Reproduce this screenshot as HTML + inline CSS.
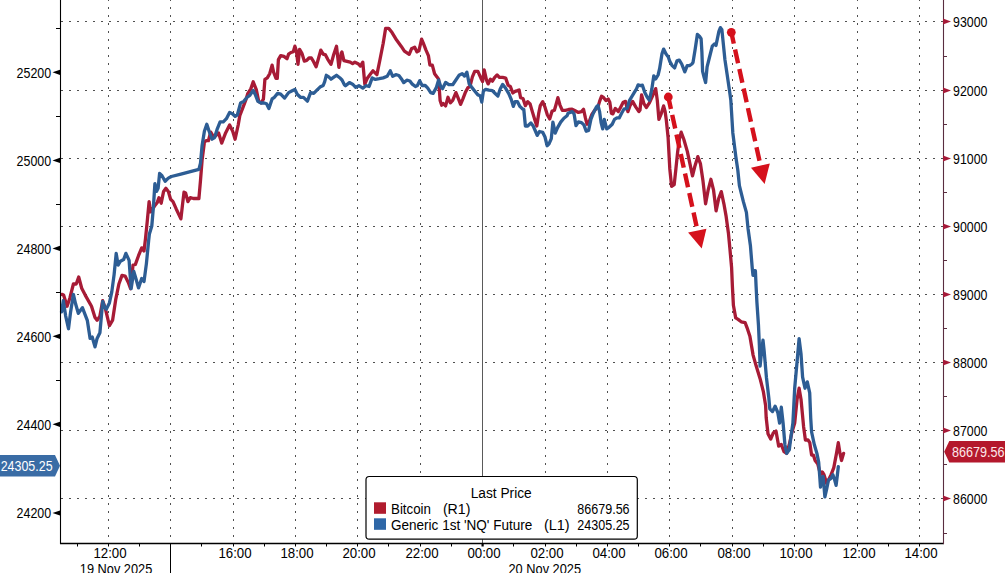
<!DOCTYPE html><html><head><meta charset="utf-8"><style>
html,body{margin:0;padding:0;background:#fff;overflow:hidden}
svg{display:block;font-family:"Liberation Sans", sans-serif}
</style></head><body>
<svg width="1005" height="573" viewBox="0 0 1005 573">
<rect width="1005" height="573" fill="#fff"/>
<g stroke="#505050" stroke-width="1" stroke-dasharray="2 6" shape-rendering="crispEdges"><line x1="61" y1="21.5" x2="943" y2="21.5"/><line x1="61" y1="90.5" x2="943" y2="90.5"/><line x1="61" y1="158.5" x2="943" y2="158.5"/><line x1="61" y1="226.5" x2="943" y2="226.5"/><line x1="61" y1="294.5" x2="943" y2="294.5"/><line x1="61" y1="362.5" x2="943" y2="362.5"/><line x1="61" y1="430.5" x2="943" y2="430.5"/><line x1="61" y1="498.5" x2="943" y2="498.5"/><line x1="108.5" y1="0" x2="108.5" y2="543" stroke-dashoffset="1"/><line x1="170.5" y1="0" x2="170.5" y2="543" stroke-dashoffset="1"/><line x1="233.5" y1="0" x2="233.5" y2="543" stroke-dashoffset="1"/><line x1="295.5" y1="0" x2="295.5" y2="543" stroke-dashoffset="1"/><line x1="357.5" y1="0" x2="357.5" y2="543" stroke-dashoffset="1"/><line x1="420.5" y1="0" x2="420.5" y2="543" stroke-dashoffset="1"/><line x1="545.5" y1="0" x2="545.5" y2="543" stroke-dashoffset="1"/><line x1="607.5" y1="0" x2="607.5" y2="543" stroke-dashoffset="1"/><line x1="669.5" y1="0" x2="669.5" y2="543" stroke-dashoffset="1"/><line x1="732.5" y1="0" x2="732.5" y2="543" stroke-dashoffset="1"/><line x1="794.5" y1="0" x2="794.5" y2="543" stroke-dashoffset="1"/><line x1="857.5" y1="0" x2="857.5" y2="543" stroke-dashoffset="1"/><line x1="919.5" y1="0" x2="919.5" y2="543" stroke-dashoffset="1"/></g>
<line x1="482.5" y1="0" x2="482.5" y2="543" stroke="#5a5a5a" stroke-width="1" shape-rendering="crispEdges"/>
<polyline points="61.9,294.4 63.6,295.1 67.1,306.3 69.9,297.9 73.4,284.0 76.2,284.0 78.7,277.0 81.7,288.2 85.2,295.1 91.5,306.3 95.0,317.5 97.1,320.3 99.9,316.1 102.7,300.7 105.5,309.1 109.4,325.7 112.6,320.2 115.7,299.7 118.9,284.0 122.0,275.4 125.1,276.1 128.3,282.4 130.6,288.7 133.0,265.1 135.4,264.4 138.5,255.7 141.7,247.9 144.0,251.0 145.5,238.6 147.1,222.9 149.1,201.6 150.7,211.9 154.9,205.6 157.3,202.4 158.9,197.7 161.2,203.2 163.6,191.4 165.9,188.3 168.3,191.4 170.6,199.3 173.0,201.6 176.1,208.7 180.9,218.9 182.4,205.6 184.0,192.2 185.6,193.0 187.9,201.6 190.3,197.7 193.4,198.5 198.9,198.5 200.5,180.4 202.1,160.0 204.4,142.3 206.0,140.7 208.4,140.7 210.7,132.1 213.1,136.0 215.4,136.0 218.6,132.9 221.7,143.1 225.6,132.9 229.6,125.0 232.7,131.3 235.1,139.2 238.2,125.0 239.8,115.6 242.9,107.7 246.1,99.1 247.7,93.6 250.8,88.9 253.2,81.8 256.3,89.6 258.7,101.4 261.0,103.0 263.4,99.1 264.9,79.4 267.3,77.9 269.7,73.7 272.1,65.1 273.6,72.2 276.0,78.4 277.3,78.4 278.4,59.6 280.7,55.6 283.9,56.4 287.0,58.8 288.6,54.1 290.9,52.5 293.3,51.7 294.9,46.2 296.4,50.9 298.0,64.3 299.6,49.4 301.9,53.3 304.3,61.1 306.7,60.4 309.0,58.0 311.4,58.0 313.7,61.9 316.1,66.7 318.4,58.8 320.8,50.1 323.2,54.1 325.5,54.9 327.9,59.6 331.0,64.3 333.4,55.6 336.5,46.2 338.9,67.4 341.2,53.3 341.9,51.9 343.9,60.6 347.1,61.4 350.2,62.2 352.6,63.7 354.9,62.2 358.1,63.7 360.4,66.1 362.8,62.2 364.8,84.2 367.5,77.9 369.9,74.7 373.0,70.8 376.9,74.7 380.1,59.0 383.2,43.3 385.6,28.4 388.7,28.4 391.9,32.3 396.6,40.1 401.3,46.4 404.4,51.1 409.2,54.3 411.5,48.8 414.7,47.2 417.0,51.9 418.9,50.9 421.6,39.1 423.6,43.9 426.0,50.1 428.4,55.6 429.9,65.1 432.3,65.1 434.6,73.7 437.0,76.9 438.6,79.2 440.1,100.4 441.7,105.2 443.3,103.6 445.6,105.9 448.0,97.3 450.4,102.8 452.7,100.4 455.9,92.6 458.2,98.1 460.6,104.4 462.9,98.9 465.3,92.6 467.7,87.9 470.0,86.3 472.4,76.9 474.7,71.4 477.9,71.4 481.0,78.4 482.6,81.6 484.2,69.8 486.5,80.0 488.1,83.9 490.4,79.2 492.4,81.2 494.7,77.3 497.1,74.9 499.4,77.3 502.6,77.3 505.7,78.1 508.1,85.1 510.4,86.7 512.8,93.0 515.1,91.4 517.5,90.6 519.1,89.9 520.6,97.7 523.0,98.5 525.4,105.6 527.7,101.7 530.1,104.0 532.4,111.9 534.8,119.7 536.8,126.0 538.7,113.4 540.3,105.6 542.7,101.7 545.0,107.2 547.4,115.0 549.7,118.9 552.1,111.1 554.4,110.3 556.0,104.8 557.9,97.7 559.9,104.8 562.3,110.3 565.4,110.3 568.6,109.5 572.1,109.2 575.2,110.8 578.4,112.4 581.5,111.6 583.5,109.2 585.4,117.9 587.0,124.2 589.4,121.0 591.7,114.7 594.9,110.0 598.0,106.9 599.6,101.4 601.5,96.2 603.5,97.4 605.9,100.6 608.2,99.0 609.8,102.2 611.4,113.2 612.9,113.9 615.3,108.4 618.4,111.6 620.8,106.9 623.2,102.2 625.5,101.4 627.9,111.6 630.2,105.3 632.6,101.4 635.7,106.9 638.9,111.6 640.0,110.0 641.6,94.9 643.9,103.6 646.3,107.5 649.4,102.8 652.6,95.7 655.7,88.6 657.3,100.4 658.9,119.3 661.2,113.8 663.6,105.9 665.1,111.4 666.3,120.0 668.1,137.5 669.8,168.9 671.6,186.3 674.2,184.6 675.9,168.9 677.7,151.4 679.4,139.2 681.2,132.2 683.8,139.2 687.3,151.4 689.9,163.6 692.5,175.9 695.1,165.4 697.8,156.7 700.4,163.6 703.0,181.1 705.6,203.8 708.2,189.8 710.9,179.3 713.5,189.8 716.1,210.8 718.7,198.5 721.3,191.6 723.9,203.8 726.0,215.6 728.4,232.9 729.9,248.6 731.6,267.6 732.4,286.4 733.4,305.3 735.7,317.9 738.1,319.4 741.2,321.8 745.1,322.6 747.5,328.9 749.9,336.3 751.5,345.7 753.1,355.1 756.2,366.1 760.1,378.7 763.3,391.3 765.6,405.4 766.2,417.8 768.0,433.8 770.7,439.1 773.3,432.9 776.0,431.1 778.7,446.2 781.3,444.5 784.0,451.6 786.7,453.4 789.3,444.5 792.0,432.0 794.7,423.1 797.1,399.2 799.1,388.2 801.0,399.2 803.6,426.7 805.4,440.0 808.0,440.0 809.8,442.7 811.6,455.1 813.4,455.1 815.1,460.5 817.8,464.0 820.5,474.7 822.3,472.0 824.0,474.7 826.7,483.6 828.5,480.0 831.1,474.7 833.8,467.6 836.5,453.4 838.3,442.7 840.0,453.4 841.5,460.5 843.6,453.4" fill="none" stroke="#a71b36" stroke-width="3.3" stroke-linejoin="round" stroke-linecap="round"/>
<polyline points="61.5,311.9 63.3,300.7 65.7,316.1 68.5,328.7 70.6,311.9 73.4,294.4 75.5,303.5 78.3,313.3 82.4,307.7 87.3,320.3 90.1,338.4 92.2,337.0 95.0,346.8 97.1,338.4 99.9,332.8 102.7,301.4 104.8,307.7 106.3,309.2 109.4,302.9 111.8,291.9 114.1,274.6 116.2,253.4 118.1,265.1 120.4,261.2 123.6,259.6 125.9,253.4 129.1,260.4 131.1,288.7 133.8,271.4 136.1,279.3 138.5,287.9 141.7,278.5 144.0,281.6 146.4,263.6 148.7,240.0 149.4,233.9 151.8,226.0 153.4,207.2 154.9,183.6 156.5,191.4 158.1,188.3 159.6,173.4 162.0,175.7 165.1,181.2 168.3,178.1 171.4,176.5 180.9,174.1 198.9,169.4 200.5,163.1 202.1,145.4 204.4,131.3 206.8,124.2 209.1,131.3 212.0,139.2 214.6,137.6 217.0,129.7 220.1,121.9 223.3,121.9 226.4,118.7 229.6,112.4 232.7,114.0 235.1,116.4 237.4,114.8 240.6,103.0 243.7,101.4 246.9,97.5 250.0,95.1 253.2,90.4 255.5,95.1 257.9,101.4 261.0,103.0 264.2,103.0 266.5,103.8 268.9,108.5 272.1,98.9 274.4,97.3 277.6,93.4 280.7,94.2 284.6,98.1 288.6,92.6 291.7,91.0 294.9,89.4 297.2,94.2 300.4,97.3 303.5,97.3 307.4,101.2 310.6,92.6 313.7,93.4 316.9,90.2 320.0,87.1 323.2,85.5 324.7,81.6 326.3,75.3 328.7,76.9 331.0,79.2 334.2,76.9 336.5,75.3 339.7,77.7 342.0,80.0 344.4,84.7 345.5,85.7 349.4,82.6 352.6,84.2 355.7,87.3 358.9,85.7 362.8,88.1 365.9,85.7 369.1,86.5 372.2,77.9 375.4,79.4 379.3,78.7 383.2,77.9 387.2,76.3 390.3,70.8 392.7,76.3 395.8,74.7 398.9,75.5 401.3,78.7 403.7,82.6 406.8,80.2 409.9,81.0 412.3,84.2 415.4,86.5 417.4,85.5 419.7,80.8 422.1,85.5 425.2,85.5 427.6,87.9 430.7,92.6 433.1,93.4 436.2,87.9 438.6,80.0 440.9,87.1 442.5,88.7 445.6,82.4 448.8,84.7 452.7,84.7 455.9,80.0 459.0,75.3 462.2,73.7 464.5,76.1 466.9,72.2 469.2,83.9 471.6,87.1 474.7,91.0 477.9,94.9 480.2,95.7 481.8,102.0 483.4,91.0 485.7,89.4 488.9,90.2 492.4,90.6 494.7,93.0 497.9,96.1 500.2,89.1 502.6,84.4 505.7,88.3 508.9,93.8 511.2,99.3 513.3,106.4 515.1,101.7 517.5,101.7 519.9,106.4 522.2,108.7 523.8,109.5 525.4,126.0 527.7,126.0 530.9,122.9 533.2,126.0 535.6,131.5 537.2,135.4 539.5,131.5 542.7,132.3 545.0,137.0 547.1,145.7 548.9,144.1 551.3,138.6 552.9,122.1 554.4,129.2 555.2,133.1 557.6,127.6 560.7,122.1 563.9,118.2 567.0,115.8 568.1,113.2 572.1,111.6 574.1,113.9 576.0,125.7 578.4,121.8 581.5,122.6 583.9,124.9 586.2,131.2 588.6,130.4 590.9,119.4 593.3,113.2 596.4,106.9 598.0,105.3 599.6,111.6 601.1,122.6 602.7,128.9 604.3,119.4 606.7,128.9 609.0,127.3 612.2,124.2 614.5,119.4 616.9,117.9 619.2,117.9 621.6,113.2 623.9,109.2 627.1,108.4 629.4,100.6 631.8,96.7 634.2,92.7 636.5,88.8 638.1,84.9 640.4,85.6 642.4,85.2 644.7,92.3 647.1,97.0 649.4,100.2 651.8,89.2 653.8,75.8 655.7,78.9 658.1,75.0 659.6,68.7 662.0,53.8 663.6,49.1 665.9,53.8 668.3,56.9 669.9,61.7 672.2,65.6 674.6,67.9 676.9,60.9 679.3,60.1 681.7,64.0 684.8,71.9 687.2,65.6 689.5,65.6 691.9,64.0 693.0,62.5 695.2,49.1 697.4,34.3 699.6,36.5 701.1,38.7 701.9,52.1 702.6,71.4 704.1,77.3 705.6,82.5 707.1,66.9 709.3,58.0 712.3,46.2 714.5,43.9 716.0,45.4 717.4,38.7 718.9,31.3 720.4,27.6 721.9,29.8 723.4,44.7 724.9,59.5 727.1,74.3 729.3,89.2 730.8,100.0 732.8,132.7 735.8,156.5 737.8,170.0 739.4,185.7 743.3,201.4 746.4,212.4 748.0,228.2 750.4,245.4 752.2,267.6 753.0,275.4 753.8,270.7 755.4,270.7 756.1,286.4 756.9,302.2 758.5,325.7 759.4,345.7 760.1,366.1 761.7,350.4 763.0,340.2 764.1,350.4 766.4,377.2 768.8,397.6 769.8,408.9 772.5,411.6 775.1,406.2 777.8,412.5 779.6,423.1 781.3,407.1 783.1,423.1 784.9,444.5 786.7,453.4 789.3,449.8 791.1,435.6 792.9,423.1 794.7,388.2 797.1,361.4 799.1,338.6 801.0,353.6 802.6,377.2 805.0,388.2 807.3,381.9 809.7,392.9 810.7,417.8 811.6,432.0 814.3,444.5 816.9,453.4 818.7,462.3 819.6,474.7 820.5,487.2 821.4,478.3 823.1,476.5 824.9,496.9 826.7,488.9 828.5,480.0 831.1,478.3 832.9,474.7 834.7,480.0 836.1,485.4 837.4,474.7 838.3,466.7" fill="none" stroke="#2d5d94" stroke-width="3.3" stroke-linejoin="round" stroke-linecap="round"/>
<line x1="60.5" y1="0" x2="60.5" y2="544" stroke="#000" stroke-width="1.1"/>
<line x1="60" y1="543.5" x2="944" y2="543.5" stroke="#000" stroke-width="1.3"/>
<line x1="943.5" y1="0" x2="943.5" y2="544" stroke="#5a2d40" stroke-width="1.1"/>
<path d="M60 69.7 L52.5 72.3 L60 74.9Z" fill="#000"/>
<text x="16.6" y="77.5" font-size="15" fill="#000" textLength="34.6" lengthAdjust="spacingAndGlyphs">25200</text>
<path d="M60 157.8 L52.5 160.4 L60 163.0Z" fill="#000"/>
<text x="16.6" y="165.6" font-size="15" fill="#000" textLength="34.6" lengthAdjust="spacingAndGlyphs">25000</text>
<path d="M60 245.8 L52.5 248.4 L60 251.0Z" fill="#000"/>
<text x="16.6" y="253.6" font-size="15" fill="#000" textLength="34.6" lengthAdjust="spacingAndGlyphs">24800</text>
<path d="M60 333.7 L52.5 336.3 L60 338.9Z" fill="#000"/>
<text x="16.6" y="341.5" font-size="15" fill="#000" textLength="34.6" lengthAdjust="spacingAndGlyphs">24600</text>
<path d="M60 421.7 L52.5 424.3 L60 426.9Z" fill="#000"/>
<text x="16.6" y="429.5" font-size="15" fill="#000" textLength="34.6" lengthAdjust="spacingAndGlyphs">24400</text>
<path d="M60 510.4 L52.5 513.0 L60 515.6Z" fill="#000"/>
<text x="16.6" y="518.2" font-size="15" fill="#000" textLength="34.6" lengthAdjust="spacingAndGlyphs">24200</text>
<line x1="56" y1="28.5" x2="60" y2="28.5" stroke="#000" stroke-width="1"/>
<line x1="56" y1="116.5" x2="60" y2="116.5" stroke="#000" stroke-width="1"/>
<line x1="56" y1="204.5" x2="60" y2="204.5" stroke="#000" stroke-width="1"/>
<line x1="56" y1="292.5" x2="60" y2="292.5" stroke="#000" stroke-width="1"/>
<line x1="56" y1="380.5" x2="60" y2="380.5" stroke="#000" stroke-width="1"/>
<path d="M943 18.5 L951 21.5 L943 24.5Z" fill="#a51a38"/>
<text x="953.1" y="26.7" font-size="15" fill="#000" textLength="34.4" lengthAdjust="spacingAndGlyphs">93000</text>
<path d="M943 87.5 L951 90.5 L943 93.5Z" fill="#a51a38"/>
<text x="953.1" y="95.7" font-size="15" fill="#000" textLength="34.4" lengthAdjust="spacingAndGlyphs">92000</text>
<path d="M943 155.5 L951 158.5 L943 161.5Z" fill="#a51a38"/>
<text x="953.1" y="163.7" font-size="15" fill="#000" textLength="34.4" lengthAdjust="spacingAndGlyphs">91000</text>
<path d="M943 223.5 L951 226.5 L943 229.5Z" fill="#a51a38"/>
<text x="953.1" y="231.7" font-size="15" fill="#000" textLength="34.4" lengthAdjust="spacingAndGlyphs">90000</text>
<path d="M943 291.5 L951 294.5 L943 297.5Z" fill="#a51a38"/>
<text x="953.1" y="299.7" font-size="15" fill="#000" textLength="34.4" lengthAdjust="spacingAndGlyphs">89000</text>
<path d="M943 359.5 L951 362.5 L943 365.5Z" fill="#a51a38"/>
<text x="953.1" y="367.7" font-size="15" fill="#000" textLength="34.4" lengthAdjust="spacingAndGlyphs">88000</text>
<path d="M943 427.5 L951 430.5 L943 433.5Z" fill="#a51a38"/>
<text x="953.1" y="435.7" font-size="15" fill="#000" textLength="34.4" lengthAdjust="spacingAndGlyphs">87000</text>
<path d="M943 495.5 L951 498.5 L943 501.5Z" fill="#a51a38"/>
<text x="953.1" y="503.7" font-size="15" fill="#000" textLength="34.4" lengthAdjust="spacingAndGlyphs">86000</text>
<line x1="943" y1="56.5" x2="947" y2="56.5" stroke="#5a2d40" stroke-width="1"/>
<line x1="943" y1="124.5" x2="947" y2="124.5" stroke="#5a2d40" stroke-width="1"/>
<line x1="943" y1="192.5" x2="947" y2="192.5" stroke="#5a2d40" stroke-width="1"/>
<line x1="943" y1="260.5" x2="947" y2="260.5" stroke="#5a2d40" stroke-width="1"/>
<line x1="943" y1="328.5" x2="947" y2="328.5" stroke="#5a2d40" stroke-width="1"/>
<line x1="943" y1="396.5" x2="947" y2="396.5" stroke="#5a2d40" stroke-width="1"/>
<line x1="943" y1="464.5" x2="947" y2="464.5" stroke="#5a2d40" stroke-width="1"/>
<line x1="943" y1="533.5" x2="947" y2="533.5" stroke="#5a2d40" stroke-width="1"/>
<line x1="77.5" y1="543" x2="77.5" y2="546.5" stroke="#000" stroke-width="1"/>
<line x1="108.5" y1="543" x2="108.5" y2="546.5" stroke="#000" stroke-width="1"/>
<line x1="139.5" y1="543" x2="139.5" y2="546.5" stroke="#000" stroke-width="1"/>
<line x1="170.5" y1="543" x2="170.5" y2="546.5" stroke="#000" stroke-width="1"/>
<line x1="201.5" y1="543" x2="201.5" y2="546.5" stroke="#000" stroke-width="1"/>
<line x1="233.5" y1="543" x2="233.5" y2="546.5" stroke="#000" stroke-width="1"/>
<line x1="264.5" y1="543" x2="264.5" y2="546.5" stroke="#000" stroke-width="1"/>
<line x1="295.5" y1="543" x2="295.5" y2="546.5" stroke="#000" stroke-width="1"/>
<line x1="326.5" y1="543" x2="326.5" y2="546.5" stroke="#000" stroke-width="1"/>
<line x1="357.5" y1="543" x2="357.5" y2="546.5" stroke="#000" stroke-width="1"/>
<line x1="388.5" y1="543" x2="388.5" y2="546.5" stroke="#000" stroke-width="1"/>
<line x1="420.5" y1="543" x2="420.5" y2="546.5" stroke="#000" stroke-width="1"/>
<line x1="451.5" y1="543" x2="451.5" y2="546.5" stroke="#000" stroke-width="1"/>
<line x1="513.5" y1="543" x2="513.5" y2="546.5" stroke="#000" stroke-width="1"/>
<line x1="545.5" y1="543" x2="545.5" y2="546.5" stroke="#000" stroke-width="1"/>
<line x1="576.5" y1="543" x2="576.5" y2="546.5" stroke="#000" stroke-width="1"/>
<line x1="607.5" y1="543" x2="607.5" y2="546.5" stroke="#000" stroke-width="1"/>
<line x1="638.5" y1="543" x2="638.5" y2="546.5" stroke="#000" stroke-width="1"/>
<line x1="669.5" y1="543" x2="669.5" y2="546.5" stroke="#000" stroke-width="1"/>
<line x1="700.5" y1="543" x2="700.5" y2="546.5" stroke="#000" stroke-width="1"/>
<line x1="732.5" y1="543" x2="732.5" y2="546.5" stroke="#000" stroke-width="1"/>
<line x1="763.5" y1="543" x2="763.5" y2="546.5" stroke="#000" stroke-width="1"/>
<line x1="794.5" y1="543" x2="794.5" y2="546.5" stroke="#000" stroke-width="1"/>
<line x1="825.5" y1="543" x2="825.5" y2="546.5" stroke="#000" stroke-width="1"/>
<line x1="857.5" y1="543" x2="857.5" y2="546.5" stroke="#000" stroke-width="1"/>
<line x1="888.5" y1="543" x2="888.5" y2="546.5" stroke="#000" stroke-width="1"/>
<line x1="919.5" y1="543" x2="919.5" y2="546.5" stroke="#000" stroke-width="1"/>
<rect x="481.5" y="543" width="2.2" height="3.5" fill="#000"/>
<line x1="170.5" y1="543" x2="170.5" y2="573" stroke="#000" stroke-width="1"/>
<text x="93.4" y="557.9" font-size="14.5" fill="#000" textLength="33.2" lengthAdjust="spacingAndGlyphs">12:00</text>
<text x="218.4" y="557.9" font-size="14.5" fill="#000" textLength="33.2" lengthAdjust="spacingAndGlyphs">16:00</text>
<text x="280.4" y="557.9" font-size="14.5" fill="#000" textLength="33.2" lengthAdjust="spacingAndGlyphs">18:00</text>
<text x="342.4" y="557.9" font-size="14.5" fill="#000" textLength="33.2" lengthAdjust="spacingAndGlyphs">20:00</text>
<text x="405.4" y="557.9" font-size="14.5" fill="#000" textLength="33.2" lengthAdjust="spacingAndGlyphs">22:00</text>
<text x="467.4" y="557.9" font-size="14.5" fill="#000" textLength="33.2" lengthAdjust="spacingAndGlyphs">00:00</text>
<text x="530.4" y="557.9" font-size="14.5" fill="#000" textLength="33.2" lengthAdjust="spacingAndGlyphs">02:00</text>
<text x="592.4" y="557.9" font-size="14.5" fill="#000" textLength="33.2" lengthAdjust="spacingAndGlyphs">04:00</text>
<text x="654.4" y="557.9" font-size="14.5" fill="#000" textLength="33.2" lengthAdjust="spacingAndGlyphs">06:00</text>
<text x="717.4" y="557.9" font-size="14.5" fill="#000" textLength="33.2" lengthAdjust="spacingAndGlyphs">08:00</text>
<text x="779.4" y="557.9" font-size="14.5" fill="#000" textLength="33.2" lengthAdjust="spacingAndGlyphs">10:00</text>
<text x="842.4" y="557.9" font-size="14.5" fill="#000" textLength="33.2" lengthAdjust="spacingAndGlyphs">12:00</text>
<text x="904.4" y="557.9" font-size="14.5" fill="#000" textLength="33.2" lengthAdjust="spacingAndGlyphs">14:00</text>
<text x="79.8" y="573.7" font-size="14.5" fill="#000" textLength="72.5" lengthAdjust="spacingAndGlyphs">19 Nov 2025</text>
<text x="508.5" y="573.7" font-size="14.5" fill="#000" textLength="72.6" lengthAdjust="spacingAndGlyphs">20 Nov 2025</text>
<circle cx="668.3" cy="97" r="4.4" fill="#d5111c"/><line x1="668.3" y1="97" x2="696.6" y2="226.5" stroke="#d5111c" stroke-width="4.4" stroke-dasharray="14 6" stroke-dashoffset="1.7"/><path d="M688.1 232.4 L706.4 228.8 L701.7 248.6Z" fill="#d5111c"/>
<circle cx="731.3" cy="32.3" r="4.4" fill="#d5111c"/><line x1="731.3" y1="32.3" x2="759.7" y2="161.8" stroke="#d5111c" stroke-width="4.4" stroke-dasharray="14 6" stroke-dashoffset="2.4"/><path d="M751 167.7 L769.8 163.5 L764.6 183.9Z" fill="#d5111c"/>
<rect x="366" y="476.5" width="271.3" height="62.7" rx="3.2" ry="3.2" fill="#fff" stroke="#000" stroke-width="1.2"/>
<text x="470.7" y="497.5" font-size="14" fill="#000" textLength="61" lengthAdjust="spacingAndGlyphs">Last Price</text>
<rect x="374" y="502.3" width="12" height="11.5" fill="#b01c2e"/>
<rect x="374" y="518.3" width="12" height="11.5" fill="#2e67a7"/>
<text x="391" y="513.9" font-size="14" fill="#000" lengthAdjust="spacingAndGlyphs" textLength="40">Bitcoin</text>
<text x="442.9" y="513.9" font-size="14" fill="#000" lengthAdjust="spacingAndGlyphs" textLength="27.5">(R1)</text>
<text x="577.3" y="513.9" font-size="14" fill="#000" lengthAdjust="spacingAndGlyphs" textLength="52.3">86679.56</text>
<text x="391" y="529.8" font-size="14" fill="#000" lengthAdjust="spacingAndGlyphs" textLength="141.3">Generic 1st 'NQ' Future</text>
<text x="543.9" y="529.8" font-size="14" fill="#000" lengthAdjust="spacingAndGlyphs" textLength="25.7">(L1)</text>
<text x="577.3" y="529.8" font-size="14" fill="#000" lengthAdjust="spacingAndGlyphs" textLength="52.3">24305.25</text>
<path d="M0 455 L55 455 L60 465.8 L55 476.6 L0 476.6Z" fill="#3a6ca5"/>
<text x="0.7" y="470.9" font-size="14.5" fill="#fff" textLength="51.9" lengthAdjust="spacingAndGlyphs">24305.25</text>
<path d="M944.2 451.8 L949.3 441.1 L1005 441.1 L1005 462.5 L949.3 462.5Z" fill="#b4182c"/>
<text x="952.1" y="456.6" font-size="14.5" fill="#fde8ea" textLength="52.5" lengthAdjust="spacingAndGlyphs">86679.56</text>
</svg></body></html>
